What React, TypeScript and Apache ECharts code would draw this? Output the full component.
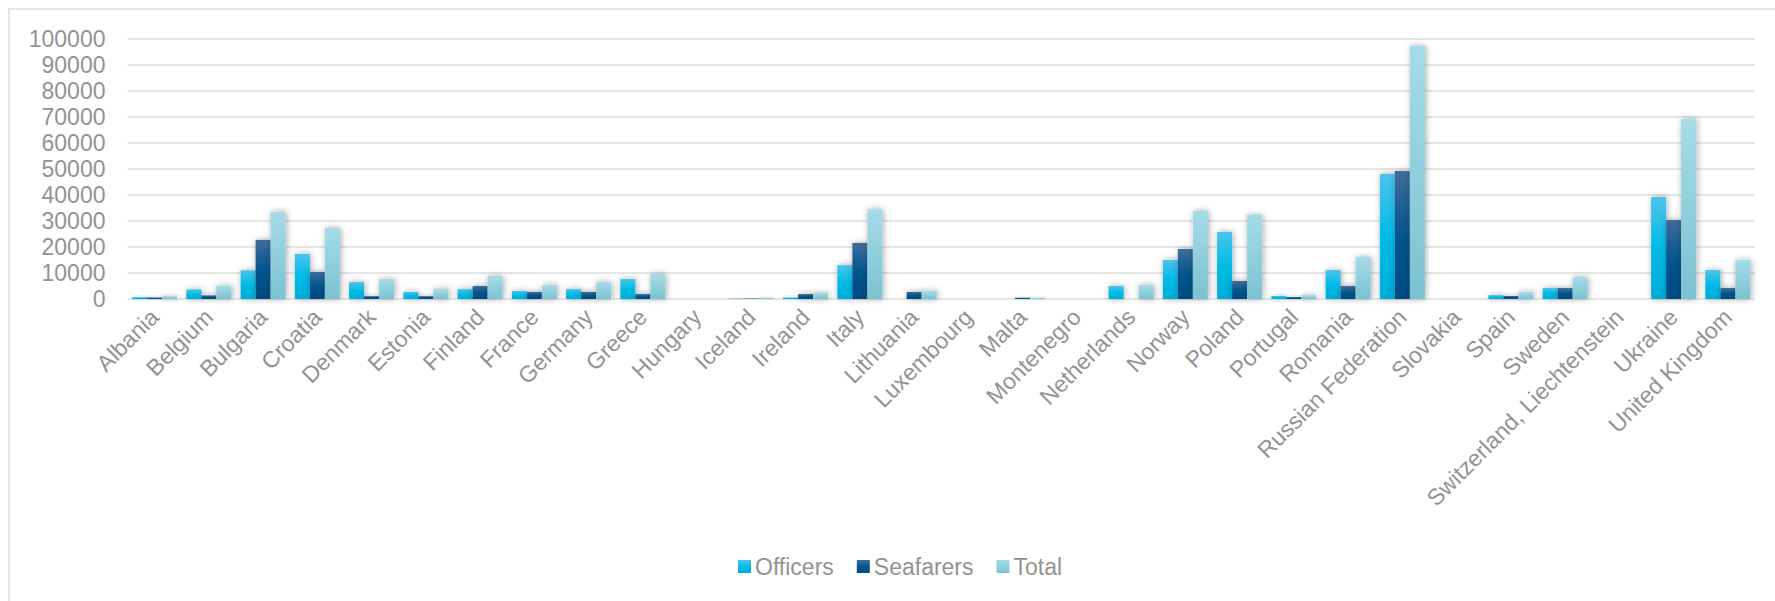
import React, { useEffect, useRef } from "react";
import * as echarts from "echarts";

const categories = [
  "Albania", "Belgium", "Bulgaria", "Croatia", "Denmark", "Estonia", "Finland", "France",
  "Germany", "Greece", "Hungary", "Iceland", "Ireland", "Italy", "Lithuania", "Luxembourg",
  "Malta", "Montenegro", "Netherlands", "Norway", "Poland", "Portugal", "Romania",
  "Russian Federation", "Slovakia", "Spain", "Sweden", "Switzerland, Liechtenstein",
  "Ukraine", "United Kingdom",
];

const officers = [
  700, 3700, 11000, 17300, 6500, 2700, 3800, 3100, 3800, 7700, 0, 200, 600, 13000, 0, 0, 0, 0,
  5000, 15000, 25700, 1150, 11100, 48000, 0, 1500, 4200, 0, 39200, 11100,
];

const seafarers = [
  600, 1400, 22700, 10400, 1100, 1100, 5000, 2700, 2700, 1900, 0, 200, 1900, 21500, 2700, 0,
  500, 0, 0, 19200, 6900, 750, 5000, 49100, 0, 1150, 4200, 0, 30300, 4200,
];

const total = [
  1100, 5100, 33500, 27300, 7700, 3800, 8800, 5400, 6500, 9600, 0, 500, 2300, 34500, 3100, 0,
  500, 0, 5400, 33800, 32200, 1500, 16100, 97100, 0, 2700, 8400, 0, 69100, 15000,
];

const yMin = 0;
const yMax = 100000;
const yInterval = 10000;

const FONT = "'Liberation Sans', Arial, sans-serif";
const TEXT = "#939393";

function grad(stops: [number, string][]) {
  return new echarts.graphic.LinearGradient(
    0, 0, 0, 1,
    stops.map(([offset, color]) => ({ offset, color }))
  );
}

export default function App() {
  const ref = useRef<HTMLDivElement>(null);

  useEffect(() => {
    if (!ref.current) return;
    const chart = echarts.init(ref.current, undefined, { renderer: "svg" });

    const shadow = {
      shadowBlur: 6,
      shadowColor: "rgba(0,0,0,0.35)",
      shadowOffsetX: 1,
      shadowOffsetY: 0,
    };

    chart.setOption({
      animation: false,
      backgroundColor: "#ffffff",
      textStyle: { fontFamily: FONT },
      graphic: [
        {
          type: "rect",
          shape: { x: 9, y: 9, width: 1800, height: 700 },
          style: { fill: "none", stroke: "#e6e6e6", lineWidth: 2 },
          silent: true,
          z: -10,
        },
      ],
      grid: {
        left: 127.5,
        right: 20,
        top: 38.5,
        bottom: 302,
        containLabel: false,
      },
      legend: {
        left: 733,
        top: 550,
        itemWidth: 13,
        itemHeight: 13,
        itemGap: 23,
        icon: "rect",
        textStyle: { color: TEXT, fontSize: 23, fontFamily: FONT, padding: [0, 0, 0, -1] },
        data: ["Officers", "Seafarers", "Total"],
      },
      xAxis: {
        type: "category",
        data: categories,
        axisTick: { show: false },
        axisLine: {
          show: true,
          lineStyle: {
            color: "#d6d6d6",
            width: 3,
            shadowBlur: 3,
            shadowColor: "rgba(0,0,0,0.25)",
            shadowOffsetY: 1,
          },
        },
        axisLabel: {
          interval: 0,
          rotate: 45,
          margin: 14,
          color: TEXT,
          fontSize: 23,
          fontFamily: FONT,
        },
      },
      yAxis: {
        type: "value",
        min: yMin,
        max: yMax,
        interval: yInterval,
        axisLine: { show: false },
        axisTick: { show: false },
        axisLabel: {
          color: TEXT,
          fontSize: 23,
          fontFamily: FONT,
          margin: 22,
          formatter: (v: number) => String(v),
        },
        splitLine: {
          show: true,
          lineStyle: { color: "#e6e6e6", width: 2 },
        },
      },
      series: [
        {
          name: "Officers",
          type: "bar",
          data: officers,
          barGap: "0%",
          barCategoryGap: "17%",
          itemStyle: {
            color: grad([
              [0, "#4cc4ea"],
              [0.5, "#00bbe7"],
              [1, "#00acd8"],
            ]),
            ...shadow,
          },
        },
        {
          name: "Seafarers",
          type: "bar",
          data: seafarers,
          barGap: "0%",
          barCategoryGap: "17%",
          itemStyle: {
            color: grad([
              [0, "#3f6d9b"],
              [0.5, "#05558d"],
              [1, "#004b82"],
            ]),
            ...shadow,
          },
        },
        {
          name: "Total",
          type: "bar",
          data: total,
          barGap: "0%",
          barCategoryGap: "17%",
          itemStyle: {
            color: grad([
              [0, "#a6dbe8"],
              [1, "#7bc2d2"],
            ]),
            ...shadow,
          },
        },
      ],
    });

    return () => chart.dispose();
  }, []);

  return (
    <div
      ref={ref}
      style={{ position: "fixed", left: 0, top: 0, width: 1775, height: 601 }}
    />
  );
}
